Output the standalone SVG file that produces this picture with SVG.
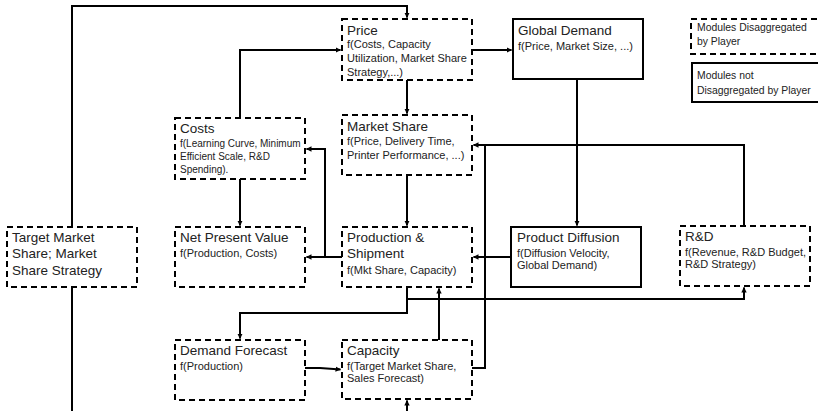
<svg xmlns="http://www.w3.org/2000/svg" width="818" height="411" viewBox="0 0 818 411">
<style>
.box{fill:#fff;stroke:#000;stroke-width:2}
.dash{stroke-dasharray:6 4}
.t{font-family:"Liberation Sans",Arial,sans-serif;font-size:13.5px;fill:#222}
.s{font-family:"Liberation Sans",Arial,sans-serif;font-size:11px;fill:#222}
.xs{font-family:"Liberation Sans",Arial,sans-serif;font-size:10px;fill:#222}
.lg{font-family:"Liberation Sans",Arial,sans-serif;font-size:10.4px;fill:#222}
.c{fill:none;stroke:#000;stroke-width:2}
</style>
<defs>
<marker id="a" markerUnits="userSpaceOnUse" markerWidth="6" markerHeight="6" refX="5" refY="3" orient="auto">
<path d="M0,0.3 L5.5,3 L0,5.7 Z" fill="#000"/>
</marker>
</defs>
<g id="connectors">
<path class="c" d="M72,227 V6 H407 V17.5" marker-end="url(#a)"/>
<path class="c" d="M72,287 V411"/>
<path class="c" d="M240,118 V50 H340.5" marker-end="url(#a)"/>
<path class="c" d="M407,80 V113.5" marker-end="url(#a)"/>
<path class="c" d="M472,50 H511.5" marker-end="url(#a)"/>
<path class="c" d="M577,79 V225.5" marker-end="url(#a)"/>
<path class="c" d="M407,175 V225.5" marker-end="url(#a)"/>
<path class="c" d="M744,226 V145 H473.5" marker-end="url(#a)"/>
<path class="c" d="M472,368 H485 V145"/>
<path class="c" d="M240,179 V225.5" marker-end="url(#a)"/>
<path class="c" d="M342,257 H306.5" marker-end="url(#a)"/>
<path class="c" d="M325,257 V149 H306.5" marker-end="url(#a)"/>
<path class="c" d="M511,257 H473.5" marker-end="url(#a)"/>
<path class="c" d="M407,287 V313 H240 V338.5" marker-end="url(#a)"/>
<path class="c" d="M407,299 H744 V287.5" marker-end="url(#a)"/>
<path class="c" d="M305,368 H320 L340.5,369.5" marker-end="url(#a)"/>
<path class="c" d="M439,340 V288.5" marker-end="url(#a)"/>
<path class="c" d="M407,411 V400.5" marker-end="url(#a)"/>
</g>
<g id="price">
<rect class="box dash" x="342" y="19" width="130" height="61"/>
<text class="t" x="347" y="35">Price</text>
<text class="s" x="347" y="48">f(Costs, Capacity</text>
<text class="s" x="347" y="62">Utilization, Market Share</text>
<text class="s" x="347" y="76">Strategy,...)</text>
</g>
<g id="global-demand">
<rect class="box" x="513" y="19" width="130" height="60"/>
<text class="t" x="518" y="35">Global Demand</text>
<text class="s" x="518" y="50">f(Price, Market Size, ...)</text>
</g>
<g id="legend-dashed">
<rect class="box dash" x="691" y="19" width="130" height="35"/>
<text class="lg" x="697" y="31">Modules Disaggregated</text>
<text class="lg" x="697" y="45">by Player</text>
</g>
<g id="legend-solid">
<rect class="box" x="692" y="63" width="129" height="39"/>
<text class="lg" x="697" y="79">Modules not</text>
<text class="lg" x="697" y="94">Disaggregated by Player</text>
</g>
<g id="market-share">
<rect class="box dash" x="342" y="115" width="130" height="60"/>
<text class="t" x="347" y="131">Market Share</text>
<text class="s" x="347" y="145">f(Price, Delivery Time,</text>
<text class="s" x="347" y="159">Printer Performance, ...)</text>
</g>
<g id="costs">
<rect class="box dash" x="175" y="118" width="130" height="61"/>
<text class="t" x="180" y="133">Costs</text>
<text class="xs" x="180" y="147">f(Learning Curve, Minimum</text>
<text class="xs" x="180" y="160">Efficient Scale, R&amp;D</text>
<text class="xs" x="180" y="173">Spending).</text>
</g>
<g id="target-market-share">
<rect class="box dash" x="7" y="227" width="130" height="60"/>
<text class="t" x="12" y="242">Target Market</text>
<text class="t" x="12" y="258">Share; Market</text>
<text class="t" x="12" y="275">Share Strategy</text>
</g>
<g id="net-present-value">
<rect class="box dash" x="175" y="227" width="130" height="60"/>
<text class="t" x="180" y="242">Net Present Value</text>
<text class="s" x="180" y="257">f(Production, Costs)</text>
</g>
<g id="production-shipment">
<rect class="box dash" x="342" y="227" width="130" height="60"/>
<text class="t" x="347" y="242">Production &amp;</text>
<text class="t" x="347" y="258">Shipment</text>
<text class="s" x="347" y="274">f(Mkt Share, Capacity)</text>
</g>
<g id="product-diffusion">
<rect class="box" x="511" y="227" width="130" height="60"/>
<text class="t" x="517" y="242">Product Diffusion</text>
<text class="s" x="517" y="257">f(Diffusion Velocity,</text>
<text class="s" x="517" y="269">Global Demand)</text>
</g>
<g id="rd">
<rect class="box dash" x="680" y="226" width="130" height="60"/>
<text class="t" x="685" y="241">R&amp;D</text>
<text class="s" x="685" y="256">f(Revenue, R&amp;D Budget,</text>
<text class="s" x="685" y="268">R&amp;D Strategy)</text>
</g>
<g id="demand-forecast">
<rect class="box dash" x="175" y="340" width="130" height="60"/>
<text class="t" x="180" y="355">Demand Forecast</text>
<text class="s" x="180" y="370">f(Production)</text>
</g>
<g id="capacity">
<rect class="box dash" x="342" y="340" width="130" height="59"/>
<text class="t" x="347" y="355">Capacity</text>
<text class="s" x="347" y="370">f(Target Market Share,</text>
<text class="s" x="347" y="382">Sales Forecast)</text>
</g>
</svg>
